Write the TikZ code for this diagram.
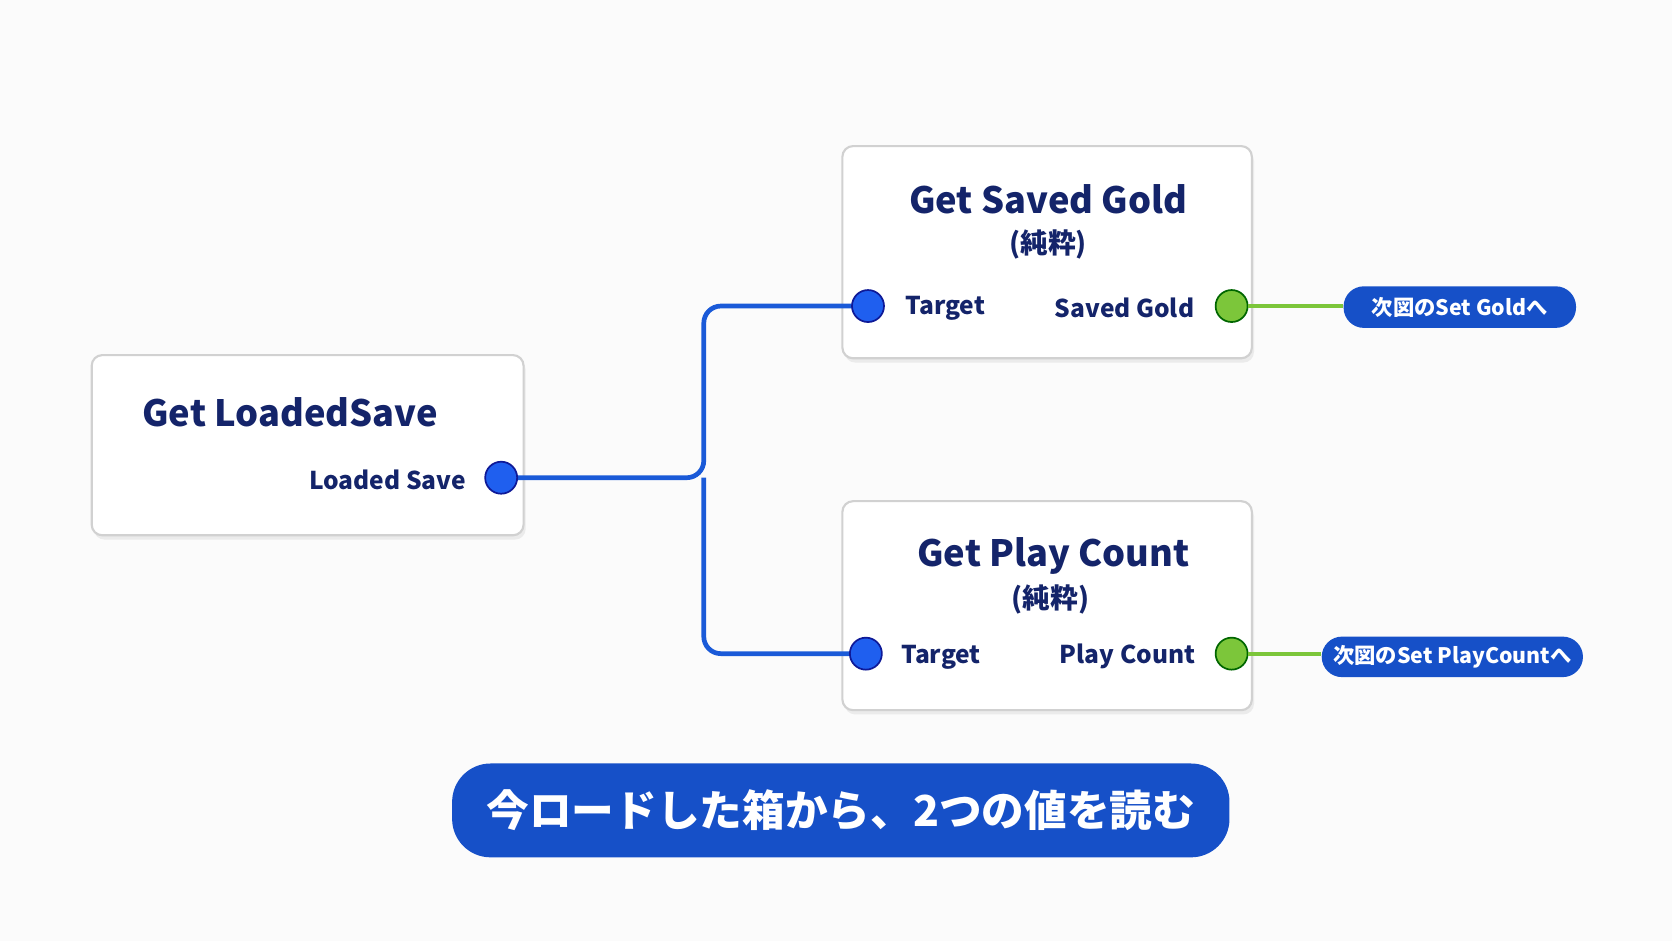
\documentclass[tikz,border=0pt]{standalone}
\usepackage{fontspec}
\setmainfont{Noto Sans CJK JP}
\definecolor{navy}{HTML}{14246A}
\definecolor{wire}{HTML}{1A5AD8}
\definecolor{pinb}{HTML}{1F5FEF}
\definecolor{grn}{HTML}{7CC63A}
\definecolor{pill}{HTML}{1650C8}
\begin{document}
\begin{tikzpicture}[x=0.5pt,y=-0.5pt,
  box/.style={draw=black!18,line width=1pt,fill=white,rounded corners=5pt},
  ttl/.style={font=\fontsize{17}{20}\selectfont\bfseries,text=navy},
  sub/.style={font=\fontsize{13}{15}\selectfont\bfseries,text=navy},
  lbl/.style={font=\fontsize{11.5}{14}\selectfont\bfseries,text=navy},
  bpin/.style={circle,draw=navy!70!blue,line width=0.8pt,fill=pinb,minimum size=15pt,inner sep=0pt},
  gpin/.style={circle,draw=green!40!black,line width=0.8pt,fill=grn,minimum size=15pt,inner sep=0pt},
  pillst/.style={fill=pill,text=white,rounded corners=9.5pt,font=\fontsize{10}{12}\selectfont\bfseries,inner sep=0pt},
  wirest/.style={draw=wire,line width=2.2pt,rounded corners=8pt},
  gw/.style={draw=grn,line width=2pt}]
\fill[white!97!gray] (0,0) rectangle (1568,882);
\useasboundingbox (0,0) rectangle (1568,882);
\foreach \a/\b/\c/\d in {86/333/491/502,790/137/1174/336,790/470/1174/666}{
  \fill[black!8,rounded corners=5pt] (\a+2,\b+4) rectangle (\c+2,\d+4);
  \draw[box] (\a,\b) rectangle (\c,\d);}
\node[ttl] (t1) at (272,387) {Get LoadedSave};
\node[lbl,anchor=east] (l1) at (444,450) {Loaded Save};
\node[ttl] (t2) at (983,187) {Get Saved Gold};
\node[sub] (s2) at (983,229) {(純粋)};
\node[lbl,anchor=west] (l2) at (842,289) {Target};
\node[lbl,anchor=east] (r2) at (1127,289) {Saved Gold};
\node[ttl] (t3) at (988,521) {Get Play Count};
\node[sub] (s3) at (985,562) {(純粋)};
\node[lbl,anchor=west] (l3) at (838,616) {Target};
\node[lbl,anchor=east] (r3) at (1128,616) {Play Count};
\coordinate (j) at (660,448);
\draw[wirest] (470,448) -- (j) |- (814,287);
\draw[wirest] (j) |- (812,613);
\node[pillst,minimum width=109pt,minimum height=19.5pt] (q1) at (1369,288) {次図のSet Goldへ};
\node[pillst,minimum width=122.5pt,minimum height=19pt] (q2) at (1362,616) {次図のSet PlayCountへ};
\node[gpin] (g2) at (1155,287) {};
\node[gpin] (g3) at (1155,613) {};
\draw[gw] (g2.east) -- (g2.east -| q1.west);
\draw[gw] (g3.east) -- (g3.east -| q2.west);
\node[bpin] (p1) at (470,448) {};
\node[bpin] (p2) at (814,287) {};
\node[bpin] (p3) at (812,613) {};
\node[fill=pill,rounded corners=18pt,minimum width=364.5pt,minimum height=44pt,inner sep=0pt,text=white,font=\fontsize{20}{24}\selectfont\bfseries] (ban) at (788.5,760) {今ロードした箱から、2つの値を読む};
\end{tikzpicture}
\end{document}
